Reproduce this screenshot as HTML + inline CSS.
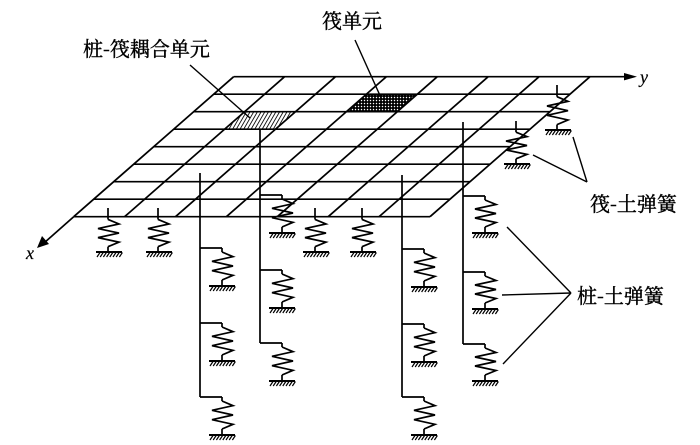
<!DOCTYPE html>
<html><head><meta charset="utf-8"><style>
html,body{margin:0;padding:0;background:#fff}
svg{display:block}
text{font-family:"Noto Serif CJK SC","Liberation Serif",serif;fill:#000;stroke:#000;stroke-width:0.4}
text.i{font-family:"Liberation Serif",serif;stroke-width:0.2}
</style></head><body>
<svg id="s" width="700" height="445" viewBox="0 0 700 445" xmlns="http://www.w3.org/2000/svg">
<defs>
<pattern id="hat" width="3.2" height="3.2" patternUnits="userSpaceOnUse" patternTransform="rotate(30)">
<rect width="3.2" height="3.2" fill="#fff"/><line x1="0" y1="0" x2="0" y2="3.2" stroke="#000" stroke-width="1.7"/>
</pattern>
<pattern id="dot" width="3" height="3" patternUnits="userSpaceOnUse">
<rect width="3" height="3" fill="#000"/><circle cx="1.5" cy="1.5" r="0.75" fill="#fff"/>
</pattern>
</defs>
<g id="g" stroke="#000" stroke-width="1.7" fill="none"></g>
<text x="83" y="56" font-size="20">桩-筏耦合单元</text>
<text x="322" y="28" font-size="20">筏单元</text>
<text x="590" y="211" font-size="20">筏-土弹簧</text>
<text x="577" y="303" font-size="20">桩-土弹簧</text>
<text class="i" x="640" y="83" font-size="18" font-style="italic">y</text>
<text class="i" x="26" y="259" font-size="18" font-style="italic">x</text>
</svg>
<script>
var g=document.getElementById('g');var NS="http://www.w3.org/2000/svg";
function el(t,a){var e=document.createElementNS(NS,t);for(var k in a)e.setAttribute(k,a[k]);g.appendChild(e);return e;}
function L(x1,y1,x2,y2,w){el('line',{x1:x1,y1:y1,x2:x2,y2:y2,'stroke-width':w||1.7});}
var T=76.7,B=216.7,X0=233.7,W=356.3,DX=160,CW=W/7,RH=(B-T)/8;
function lx(y){return X0-DX*(y-T)/(B-T);}
function cell(c,r,fill){var y1=T+r*RH,y2=y1+RH;var a=lx(y1)+c*CW,b=lx(y2)+c*CW;
el('polygon',{points:a+','+y1+' '+(a+CW)+','+y1+' '+(b+CW)+','+y2+' '+b+','+y2,fill:fill,stroke:'none'});}
cell(1,2,'url(#hat)');cell(3,1,'url(#dot)');
for(var i=0;i<=8;i++){var y=T+i*RH;L(lx(y),y,lx(y)+W,y);}
for(var j=0;j<=7;j++){L(X0+j*CW,T,X0+j*CW-DX,B);}
L(X0+W,T,628,T);el('polygon',{points:'637,76.7 624,73 624,80.4',fill:'#000',stroke:'none'});
L(X0-DX,B,44,243);el('polygon',{points:'37,248 42,236 49,244',fill:'#000',stroke:'none'});
function zig(cx,y0,y1){var h=(y1-y0)/6,p=[[cx,y0]];var s=[11,-10,11,-10,11];for(var k=0;k<5;k++)p.push([cx+s[k],y0+h*(k+1)]);p.push([cx,y1]);
el('polyline',{points:p.map(function(q){return q.join(',')}).join(' ')});}
function ground(cx,y){L(cx-13,y,cx+13,y,2);for(var x=cx-12;x<=cx+12;x+=3.2)L(x,y+5,x+3,y+0.5,1.2);}
function rspring(x,top,gy){var z0=top+(gy-top)*0.26,z1=gy-(gy-top)*0.12;L(x,top,x,z0);zig(x,z0,z1);L(x,z1,x,gy);ground(x+1,gy);}
rspring(108,208,252);rspring(158,208,252);rspring(315,208,252);rspring(362,208,252);
rspring(557,85,130);rspring(516,121,164);
function pspring(px,y,gy){var cx=px+22;L(px,y,cx,y);L(cx,y,cx,y+4);zig(cx,y+4,gy-6);L(cx,gy-6,cx,gy);ground(cx,gy);}
function pile(px,top,bot,ys,gd){L(px,top,px,bot);ys.forEach(function(y){pspring(px,y,y+gd);});}
pile(200,173,397,[248,323,397],38);
pile(260,129,343,[195,270,343],38);
pile(402,175,397,[249,324,397],38);
pile(463,122,344,[196,272,344],37);
L(190,65,250,118,1.4);L(355,40,382,100,1.4);
L(587,182,573,137,1.4);L(587,182,533,155,1.4);
L(571,293,507,227,1.4);L(571,293,502,295,1.4);L(571,293,503,364,1.4);
</script>
</body></html>
